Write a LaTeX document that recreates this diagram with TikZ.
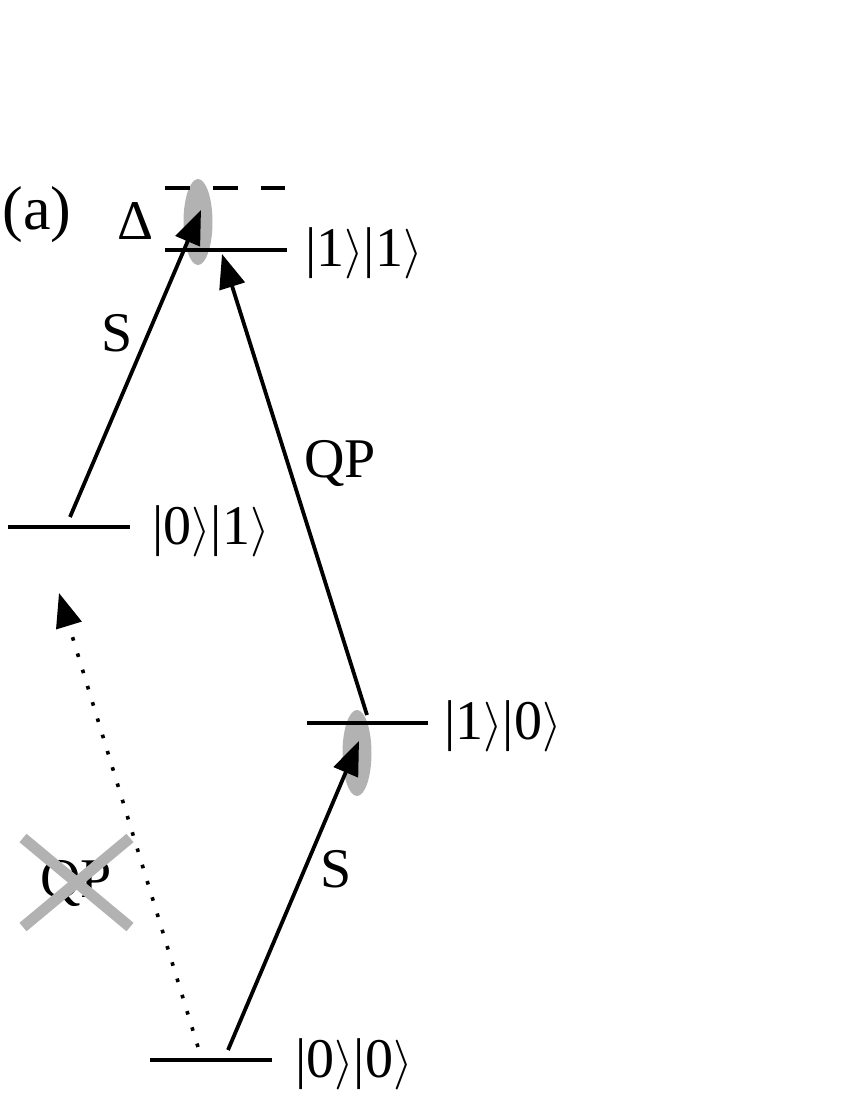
\documentclass[tikz,border=0pt]{standalone}
\usepackage{fontspec}
\setmainfont{Liberation Serif}
\usetikzlibrary{arrows.meta}

\begin{document}
\begin{tikzpicture}[x=0.5pt,y=-0.5pt,
		level/.style={line width=2.3pt},
		trans/.style={line width=1.9pt,-{Triangle[length=17pt,width=13pt]}},
		blocked/.style={line width=1.8pt,dash pattern=on 1.8pt off 6.7pt,-{Triangle[length=17pt,width=13pt]}},
		lbl/.style={font=\rmfamily\fontsize{28}{34}\selectfont,inner sep=0pt}]
	\useasboundingbox (0,0) rectangle (850,1100);
	
	% broadening
	\fill[black!30] (198,222) ellipse [x radius=14.5, y radius=43];
	\fill[black!30] (357,753) ellipse [x radius=14.5, y radius=43];
	
	% levels
	\draw[level,dash pattern=on 12.5pt off 11.5pt] (165,188) -- (285,188);
	\draw[level] (165,250) -- (287,250);
	\draw[level] (8,527) -- (130,527);
	\draw[level] (307,723) -- (428,723);
	\draw[level] (150,1060) -- (272,1060);
	
	\node[lbl,anchor=west] (L11) at (305,253) {|1$\rangle$|1$\rangle$};
	\node[lbl,anchor=west] (L01) at (152,531) {|0$\rangle$|1$\rangle$};
	\node[lbl,anchor=west] (L10) at (444,726) {|1$\rangle$|0$\rangle$};
	\node[lbl,anchor=west] (L00) at (295,1064) {|0$\rangle$|0$\rangle$};
	
	% transitions
	\coordinate (S1a) at (70,517);
	\coordinate (S1b) at (201,210);
	\coordinate (QPa) at (367,715);
	\coordinate (QPb) at (222,254);
	\coordinate (S2a) at (228,1050);
	\coordinate (S2b) at (359,741);
	\coordinate (QXa) at (198,1047);
	\coordinate (QXb) at (59,593);
	\draw[trans] (S1a) -- (S1b);
	\draw[trans] (QPa) -- (QPb);
	\draw[trans] (S2a) -- (S2b);
	\draw[blocked] (QXa) -- (QXb);
	
	\node[lbl] (S1) at (117,333) {S};
	\node[lbl] (QP) at (340,463) {QP};
	\node[lbl] (S2) at (336,869) {S};
	\node[lbl] (QPx) at (76,883) {QP};
	\node[lbl] (D) at (136,221) {Δ};
	\node[lbl,font=\rmfamily\fontsize{31}{36}\selectfont] (a) at (37,215) {(a)};
	
	% forbidden
	\draw[black!30,line width=5.5pt] (23,838) -- (130,927);
	\draw[black!30,line width=5.5pt] (23,927) -- (130,838);
\end{tikzpicture}
\end{document}
